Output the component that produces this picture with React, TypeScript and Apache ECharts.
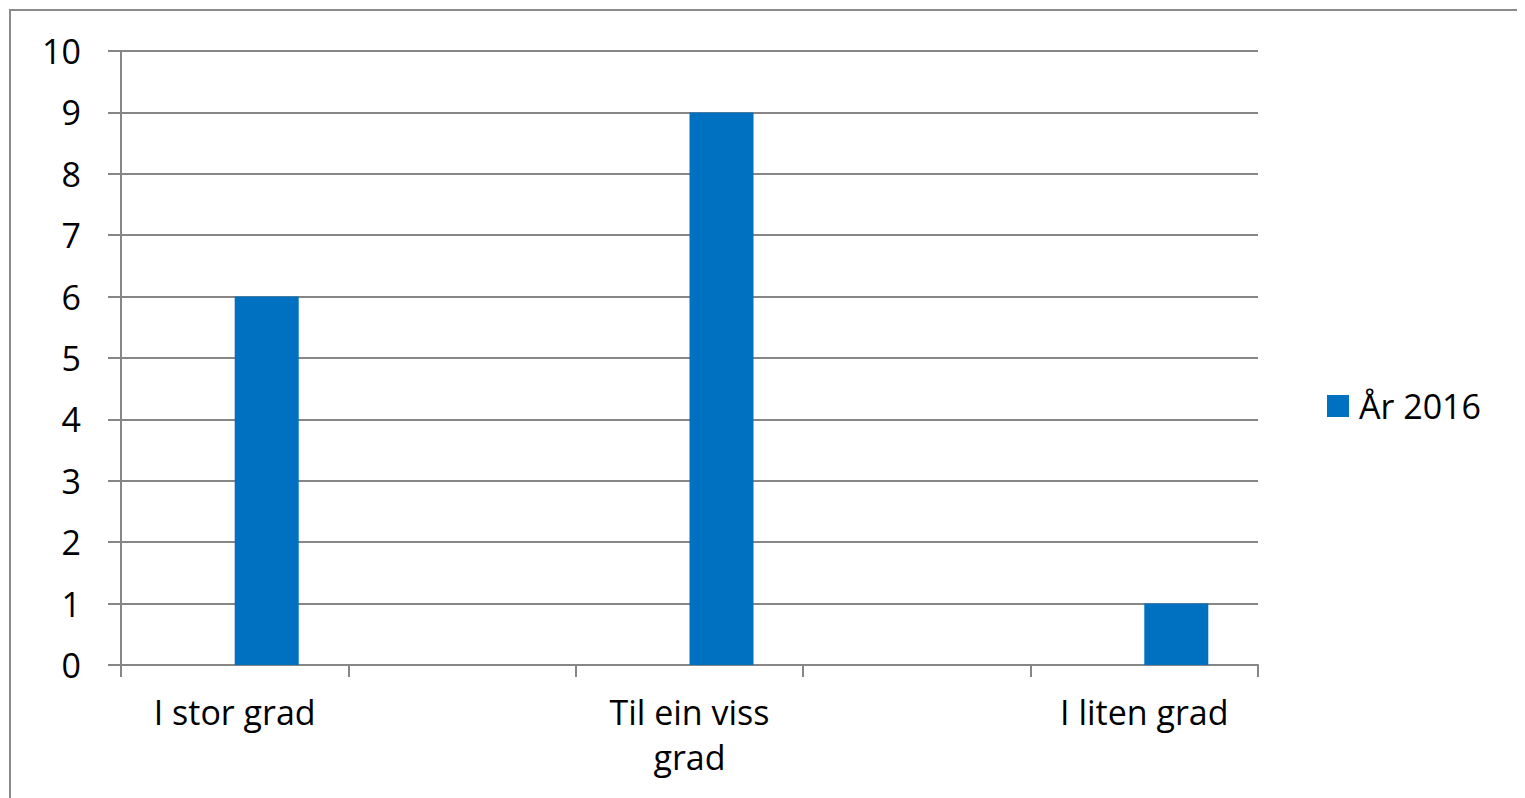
import React, { useEffect, useRef } from "react";
import * as echarts from "echarts";

const categories = ["I stor grad", "", "Til ein viss\ngrad", "", "I liten grad"];
const ghostValues: (number | null)[] = [null, null, null, null, null];
const values2016: (number | null)[] = [6, null, 9, null, 1];
const seriesName = "År 2016";
const yMin = 0;
const yMax = 10;
const yInterval = 1;

export default function App() {
  const ref = useRef<HTMLDivElement>(null);
  useEffect(() => {
    if (!ref.current) return;
    const chart = echarts.init(ref.current, null, { renderer: "svg" });
    const font = "'Open Sans', 'Liberation Sans', sans-serif";
    const axisColor = "#868686";
    const fs = 34;
    chart.setOption({
      animation: false,
      textStyle: { fontFamily: font, color: "#000" },
      graphic: [
        {
          type: "rect",
          shape: { x: 2, y: 2, width: 1700, height: 1000 },
          style: { fill: "none", stroke: "#8a8a8a", lineWidth: 2 },
          silent: true,
        },
      ],
      grid: { left: 113, right: 267, top: 43, bottom: 133, containLabel: false },
      legend: {
        data: [seriesName],
        orient: "vertical",
        left: 1319,
        top: 381,
        padding: 0,
        itemWidth: 22,
        itemHeight: 22,
        icon: "rect",
        textStyle: { fontSize: fs, lineHeight: 34, color: "#000", fontFamily: font, padding: [0, 0, 0, 5] },
      },
      xAxis: {
        type: "category",
        data: categories,
        boundaryGap: true,
        axisLine: { lineStyle: { color: axisColor, width: 2 } },
        axisTick: { show: true, interval: 0, length: 12, lineStyle: { color: axisColor, width: 2 } },
        axisLabel: {
          interval: 0,
          fontSize: fs,
          color: "#000",
          fontFamily: font,
          margin: 24,
          lineHeight: 45,
        },
        splitLine: { show: false },
      },
      yAxis: {
        type: "value",
        min: yMin,
        max: yMax,
        interval: yInterval,
        axisLine: { show: true, lineStyle: { color: axisColor, width: 2 } },
        axisTick: { show: true, length: 13, lineStyle: { color: axisColor, width: 2 } },
        axisLabel: { fontSize: fs, color: "#000", fontFamily: font, margin: 40 },
        splitLine: { show: true, lineStyle: { color: axisColor, width: 2 } },
      },
      series: [
        {
          name: "",
          type: "bar",
          data: ghostValues,
          barWidth: 64,
          barGap: "0%",
          itemStyle: { color: "#0070C0" },
        },
        {
          name: seriesName,
          type: "bar",
          data: values2016,
          barWidth: 64,
          barGap: "0%",
          itemStyle: { color: "#0070C0" },
        },
      ],
    });
    return () => chart.dispose();
  }, []);
  return <div ref={ref} style={{ width: 1517, height: 790 }} />;
}
